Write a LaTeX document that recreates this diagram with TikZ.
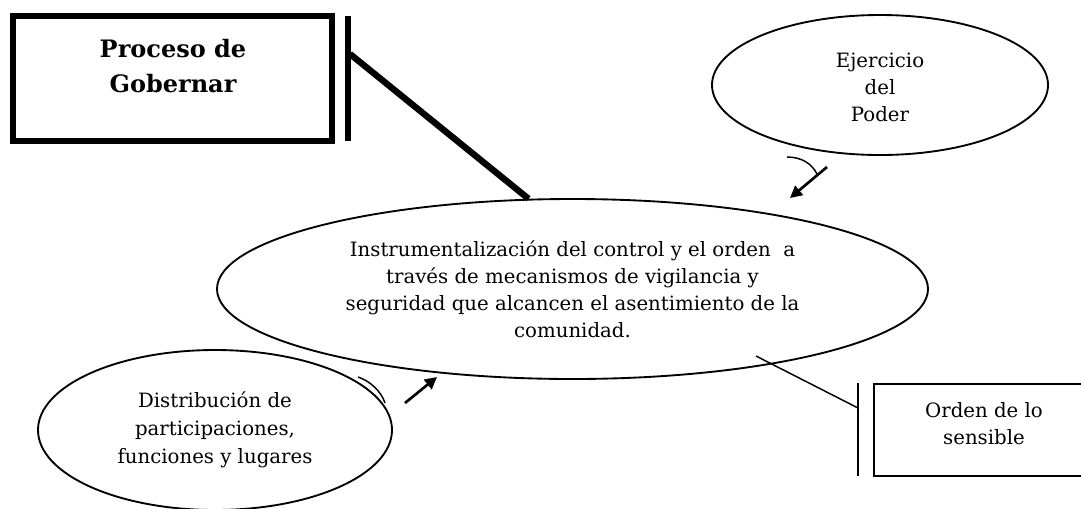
\documentclass[tikz,border=0pt]{standalone}
\usepackage{fontspec}
\setmainfont{DejaVu Serif}
\usetikzlibrary{shapes.geometric,arrows.meta}
\begin{document}
\begin{tikzpicture}[x=0.75pt,y=-0.75pt,
  oval/.style={ellipse,draw,line width=1.4pt,inner sep=0pt,align=center},
  txt/.style={align=center,font=\fontsize{14.8}{20.25}\selectfont},
  thickline/.style={line width=4.8pt},
  thinline/.style={line width=1.1pt},
  flow/.style={line width=2pt,-{Triangle[length=9pt,width=9pt]}},
  hook/.style={line width=1.1pt},
  boxed/.style={draw,rectangle,inner sep=0pt}]
\useasboundingbox (0,0) rectangle (1081,508);
\clip (0,0) rectangle (1081,508);

% main ellipse
\node[oval,minimum width=533.25pt,minimum height=135pt,txt] (main) at (572.5,289)
  {Instrumentalización del control y el orden\ \ a\\ través de mecanismos de vigilancia y\\ seguridad que alcancen el asentimiento de la\\ comunidad.};

% Ejercicio del Poder
\node[oval,minimum width=252pt,minimum height=105pt,txt] (ej) at (880,85) {};
\node[txt] (ejt) at (880,87) {Ejercicio\\del\\Poder};

% Distribucion
\node[oval,minimum width=265.5pt,minimum height=120pt,txt,font=\fontsize{14.8}{21}\selectfont] (dist) at (215,430)
  {Distribución de\\participaciones,\\funciones y lugares};

% Proceso de Gobernar
\node[boxed,line width=4.5pt,minimum width=239.25pt,minimum height=93.4pt] (gob) at (172.5,78.75) {};
\node[align=center,font=\fontsize{18}{26}\selectfont\bfseries] (gobt) at (173,66) {Proceso de\\Gobernar};
\coordinate (barT) at (348,16);
\coordinate (barB) at (348,141);
\coordinate (barJ) at (350,54);
\draw[thickline] (barT) -- (barB);
\draw[thickline] (barJ) -- (main.116.6);

% Orden de lo sensible
\node[boxed,line width=1.4pt,minimum width=165pt,minimum height=69pt] (ord) at (984,430) {};
\node[txt] (ordt) at (984,424) {Orden de lo\\sensible};
\coordinate (ovT) at (858,383);
\coordinate (ovB) at (858,476);
\coordinate (ovJ) at (858,408);
\coordinate (oline) at (756,356);
\draw[thinline] (ovT) -- (ovB);
\draw[thinline] (ovJ) -- (oline);

% arrow from Ejercicio
\coordinate (a1s) at (827,167);
\coordinate (a1e) at (790,198);
\coordinate (h1s) at (787,157);
\coordinate (h1e) at (817,174);
\draw[flow] (a1s) -- (a1e);
\draw[hook] (h1s) .. controls (802,157) and (812,164) .. (h1e);

% arrow from Distribucion
\coordinate (a2s) at (405,403);
\coordinate (a2e) at (437,377);
\coordinate (h2s) at (358,377);
\coordinate (h2e) at (385,403);
\draw[flow] (a2s) -- (a2e);
\draw[hook] (h2s) .. controls (370,381) and (381,391) .. (h2e);
\end{tikzpicture}
\end{document}
